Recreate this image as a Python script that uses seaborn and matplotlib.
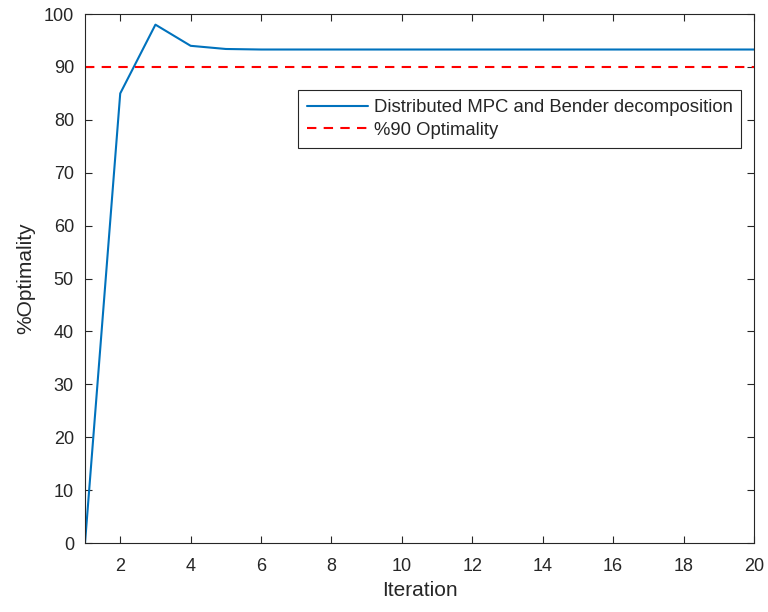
import matplotlib
matplotlib.use("Agg")
import matplotlib.pyplot as plt
import seaborn as sns
import pandas as pd

iterations = list(range(1, 21))
optimality = [0.0, 85.0, 98.0, 94.0, 93.4, 93.3, 93.3, 93.3, 93.3, 93.3,
              93.3, 93.3, 93.3, 93.3, 93.3, 93.3, 93.3, 93.3, 93.3, 93.3]
threshold = 90
series_label = "Distributed MPC and Bender decomposition"
threshold_label = "%90 Optimality"
x_ticks = list(range(2, 21, 2))
y_ticks = list(range(0, 101, 10))

sns.set_theme(style="white")
plt.rcParams['font.family'] = ['Liberation Sans', 'DejaVu Sans']

df = pd.DataFrame({"Iteration": iterations, "Optimality": optimality})

fig = plt.figure(figsize=(7.68, 6.12), dpi=100)
ax = fig.add_axes([0.1107, 0.1127, 0.8711, 0.8643])

sns.lineplot(data=df, x="Iteration", y="Optimality", ax=ax, color="#0072BD",
             linewidth=1.5, label=series_label)
ax.axhline(threshold, color="#FF0000", linestyle=(0, (4.5, 3.5)), linewidth=1.5,
           label=threshold_label)

ax.set_xlim(1, 20)
ax.set_ylim(0, 100)
ax.set_xticks(x_ticks)
ax.set_yticks(y_ticks)
ax.set_xlabel("Iteration", fontsize=15, color="#262626", labelpad=4)
ax.set_ylabel("%Optimality", fontsize=15, color="#262626", labelpad=6)
ax.tick_params(direction="in", length=5, width=0.8, colors="#262626",
               labelsize=13, top=True, right=True, bottom=True, left=True,
               labelcolor="#262626")
ax.tick_params(axis="x", pad=11)
ax.tick_params(axis="y", pad=8)
for sp in ax.spines.values():
    sp.set_color("#262626")
    sp.set_linewidth(0.8)
    sp.set_visible(True)

leg = ax.legend(loc="upper right", bbox_to_anchor=(0.981, 0.856), fontsize=13.3,
                frameon=True, fancybox=False, framealpha=1, edgecolor="#262626",
                handlelength=3.3, handletextpad=0.3, borderpad=0.48,
                labelspacing=0.3, borderaxespad=0)
leg.get_frame().set_linewidth(0.8)

fig.savefig("out.png", dpi=100)
